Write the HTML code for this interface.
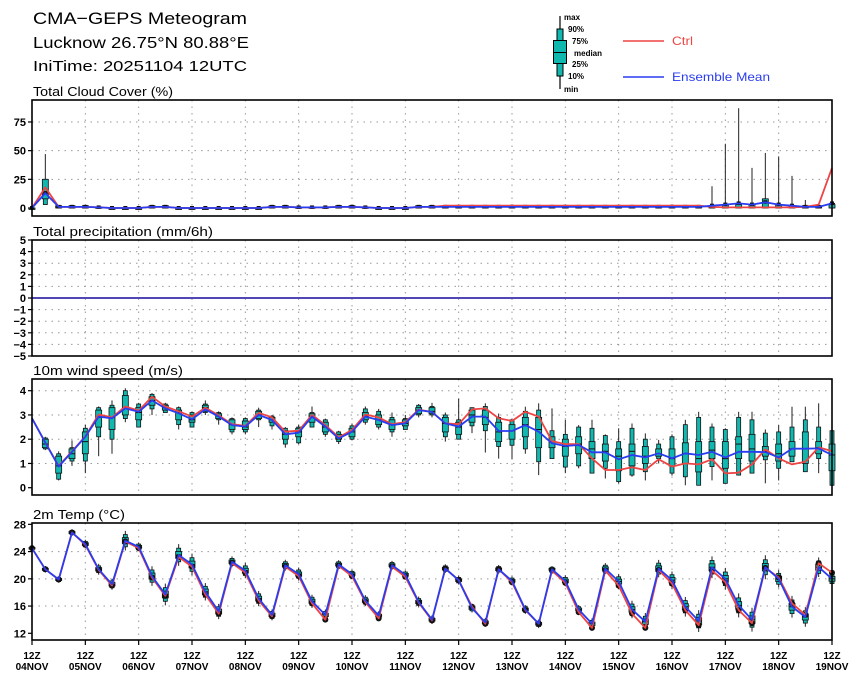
<!DOCTYPE html>
<html><head><meta charset="utf-8">
<style>
html,body{margin:0;padding:0;background:#fff;}
svg{display:block;font-family:"Liberation Sans",sans-serif;}
</style></head>
<body>
<svg id="c" width="860" height="677" viewBox="0 0 860 677">
<text x="33" y="24" font-size="17" textLength="214" lengthAdjust="spacingAndGlyphs">CMA−GEPS Meteogram</text>
<text x="33" y="48" font-size="15.5" textLength="216" lengthAdjust="spacingAndGlyphs">Lucknow 26.75°N 80.88°E</text>
<text x="33" y="71" font-size="15" textLength="214" lengthAdjust="spacingAndGlyphs">IniTime: 20251104 12UTC</text>
<g font-size="8" font-weight="bold">
 <line x1="560" y1="16" x2="560" y2="89" stroke="#000" stroke-width="1.2"/>
 <rect x="557" y="29" width="6" height="47" fill="#10b8b0" stroke="#000"/>
 <rect x="553.5" y="40.5" width="13" height="23" fill="#10b8b0" stroke="#000"/>
 <line x1="553.5" y1="52.5" x2="566.5" y2="52.5" stroke="#000"/>
 <text x="564" y="20">max</text><text x="568" y="32">90%</text><text x="572" y="44">75%</text>
 <text x="574" y="56">median</text><text x="572" y="67">25%</text><text x="568" y="79">10%</text><text x="564" y="92">min</text>
 <line x1="623" y1="41" x2="664" y2="41" stroke="#ee4444" stroke-width="1.5"/>
 <text x="672" y="45" font-size="12" fill="#ee4444" font-weight="normal" textLength="21" lengthAdjust="spacingAndGlyphs">Ctrl</text>
 <line x1="623" y1="77" x2="664" y2="77" stroke="#2a3cf0" stroke-width="1.5"/>
 <text x="672" y="81" font-size="12" fill="#2a3cf0" font-weight="normal" textLength="98" lengthAdjust="spacingAndGlyphs">Ensemble Mean</text>
</g>
</svg>
<script>
// ---- data (61 steps, 6-hourly from 12Z 04NOV) ----
var dayLabels=["04NOV","05NOV","06NOV","07NOV","08NOV","09NOV","10NOV","11NOV","12NOV","13NOV","14NOV","15NOV","16NOV","17NOV","18NOV","19NOV"];
var panelTitles=["Total Cloud Cover (%)","Total precipitation (mm/6h)","10m wind speed (m/s)","2m Temp (°C)"];
var cloudMean=[0,13,1,1,1,0.5,0,0,0,1,1,0,0,0,0,0,0,0,1,1,0.5,0.5,0.5,1,1,0.5,0,0,0,1,1,1,1,1,1,1,1,1,1,1,1,1,1,1,1,1,1,1,1,1,1,2,3,4,3,5,3,2,1,1,4];
var cloudCtrl=[0,18,1,1,1,0.5,0,0,0,1,1,0,0,0,0,0,0,0,1,1,0.5,0.5,0.5,1,1,0.5,0,0,0,1,1,2,2,2,2,2,2,2,2,2,2,2,2,2,2,2,2,2,2,2,2,1,0.5,0.5,0.5,0.5,0.5,0.5,1,3,35];
var cloudMax=[0,47,2,2,2,1,0,0,0,2,2,0,0,0,0,0,0,0,2,2,1,1,1,2,2,1,0,0,0,2,2,2,2,2,2,2,2,2,2,2,2,2,2,2,2,2,2,2,2,2,2,19,56,87,35,48,45,28,7,4,6];
var cloudP75=[0,25,2,2,2,1,0,0,0,2,2,0,0,0,0,0,0,0,2,2,1,1,1,2,2,1,0,0,0,2,2,2,2,2,2,2,2,2,2,2,2,2,2,2,2,2,2,2,2,2,2,2,3,3,3,8,3,2,2,2,3];
var cloudP25=[0,8,0,0,0,0,0,0,0,0,0,0,0,0,0,0,0,0,0,0,0,0,0,0,0,0,0,0,0,0,0,0,0,0,0,0,0,0,0,0,0,0,0,0,0,0,0,0,0,0,0,0,0,0,0,0,0,0,0,0,0];
var cloudMin=[0,3,0,0,0,0,0,0,0,0,0,0,0,0,0,0,0,0,0,0,0,0,0,0,0,0,0,0,0,0,0,0,0,0,0,0,0,0,0,0,0,0,0,0,0,0,0,0,0,0,0,0,0,0,0,0,0,0,0,0,0];
var precipMean=[0,0,0,0,0,0,0,0,0,0,0,0,0,0,0,0,0,0,0,0,0,0,0,0,0,0,0,0,0,0,0,0,0,0,0,0,0,0,0,0,0,0,0,0,0,0,0,0,0,0,0,0,0,0,0,0,0,0,0,0,0];
var windMean=[2.86,1.86,0.87,1.48,2.10,2.93,2.86,3.27,3.13,3.60,3.27,3.07,2.82,3.23,2.93,2.58,2.52,3.00,2.79,2.20,2.27,2.93,2.52,2.03,2.31,2.93,2.79,2.58,2.65,3.20,3.12,2.65,2.52,2.93,2.93,2.34,2.34,2.58,2.31,1.83,1.72,1.76,1.46,1.46,1.17,1.35,1.25,1.42,1.21,1.42,1.35,1.48,1.25,1.48,1.48,1.47,1.25,1.61,1.61,1.62,1.35];
var windCtrl=[2.86,1.86,0.90,1.50,2.12,3.02,2.90,3.35,3.18,3.75,3.35,3.15,2.93,3.30,2.98,2.62,2.55,3.09,2.90,2.31,2.35,3.00,2.58,2.08,2.38,3.02,2.90,2.62,2.70,3.22,3.12,2.65,2.62,3.23,3.27,2.86,2.75,3.13,2.93,1.92,1.80,1.80,1.21,0.73,0.73,0.84,0.73,1.17,0.87,1.00,0.96,1.17,0.59,0.62,0.96,1.58,1.21,0.96,1.07,1.66,1.51];
var windMin=[null,1.55,0.3,0.9,0.6,1.3,1.4,2.7,2.5,3.0,3.1,2.4,2.5,3.0,2.6,2.2,2.2,2.5,2.4,1.65,1.8,2.5,2.1,1.8,1.95,2.6,2.4,2.1,2.4,2.9,2.9,1.9,2.0,2.25,1.45,1.2,1.17,1.4,0.52,1.2,0.6,0.8,0.6,0.38,0.18,0.45,0.3,1.0,0.5,0.1,0.1,0.3,0.18,0.5,0.6,0.18,0.3,1.07,0.66,0.6,0.1];
var windP10=[null,1.6,0.35,1.1,1.1,2.1,2.0,2.85,2.5,3.25,3.1,2.6,2.5,3.1,2.8,2.3,2.3,2.8,2.55,1.8,1.85,2.5,2.2,1.9,2.0,2.7,2.5,2.3,2.4,3.0,3.0,2.1,2.0,2.55,2.35,1.7,1.75,1.6,1.07,1.2,0.85,0.9,0.6,0.8,0.25,0.52,0.66,1.2,0.6,0.45,0.1,0.87,0.18,0.52,0.6,1.15,0.8,1.07,0.66,1.2,0.1];
var windP25=[null,1.65,0.6,1.2,1.4,2.5,2.4,3.0,2.8,3.4,3.2,2.8,2.7,3.15,2.85,2.4,2.4,2.85,2.7,2.0,2.1,2.7,2.3,2.0,2.1,2.8,2.6,2.4,2.55,3.05,3.05,2.3,2.2,2.7,2.6,1.9,2.0,2.1,1.65,1.65,1.3,1.4,1.2,1.1,0.7,0.9,1.0,1.3,0.9,1.0,0.65,1.2,0.8,1.2,1.1,1.3,1.1,1.3,1.0,1.4,0.7];
var windMed=[null,1.8,0.9,1.4,1.9,2.9,2.9,3.3,3.1,3.6,3.3,3.1,2.8,3.3,2.95,2.6,2.5,3.0,2.8,2.2,2.3,2.95,2.5,2.05,2.3,2.95,2.8,2.6,2.65,3.2,3.15,2.65,2.5,3.0,2.9,2.3,2.35,2.6,2.4,1.9,1.7,1.8,1.6,1.5,1.3,1.5,1.3,1.4,1.2,1.4,1.2,1.55,1.2,1.8,1.6,1.5,1.4,1.6,1.6,1.65,1.35];
var windP75=[null,2.0,1.3,1.6,2.3,3.2,3.3,3.8,3.3,3.75,3.4,3.2,3.0,3.4,3.05,2.8,2.75,3.15,2.9,2.35,2.45,3.05,2.7,2.2,2.45,3.1,3.0,2.8,2.8,3.3,3.3,2.9,2.7,3.2,3.2,2.7,2.6,2.9,2.9,2.1,2.0,2.1,1.9,1.8,1.6,1.8,1.7,1.6,1.6,1.85,1.9,1.9,1.9,2.1,2.2,1.7,1.8,1.9,2.3,1.9,1.8];
var windP90=[null,2.05,1.4,1.65,2.45,3.3,3.4,4.0,3.45,3.85,3.45,3.3,3.1,3.45,3.1,2.85,2.85,3.2,2.95,2.45,2.5,3.1,2.8,2.3,2.55,3.25,3.15,2.9,2.85,3.4,3.35,3.0,2.8,3.3,3.35,2.9,2.8,3.15,3.2,2.35,2.2,2.5,2.45,2.15,1.9,2.45,2.0,1.8,2.1,2.6,2.9,2.5,2.4,2.9,2.8,2.25,2.3,2.5,2.8,2.5,2.35];
var windMax=[null,2.1,1.5,1.95,2.6,3.35,3.6,4.1,3.5,3.9,3.5,3.35,3.15,3.6,3.15,2.9,2.9,3.3,3.0,2.5,2.6,3.35,2.85,2.35,2.65,3.35,3.25,3.1,3.0,3.45,3.5,3.1,3.68,3.3,3.48,3.06,2.8,3.34,3.48,3.27,2.8,2.58,2.8,2.2,2.45,2.65,2.24,1.97,2.2,2.8,3.13,2.65,2.45,3.13,3.13,2.4,2.58,3.34,3.34,3.48,2.38];
var tempMean=[24.5,21.4,19.9,26.8,25.1,21.4,19.2,25.6,24.7,20.4,17.7,23.5,22.1,18.1,15.2,22.5,21.2,17.1,14.7,22.0,20.7,16.7,14.7,22.1,20.7,16.8,14.6,22.0,20.6,16.6,14.0,21.5,19.8,15.7,13.6,21.4,19.7,15.5,13.4,21.4,19.7,15.5,13.4,21.5,19.6,15.5,13.7,21.5,19.8,15.9,13.8,21.7,20.0,16.1,14.0,21.7,20.0,15.9,14.4,21.7,20.0];
var tempCtrl=[24.5,21.4,19.9,26.8,25.0,21.3,19.0,25.5,24.5,20.2,17.5,23.2,21.8,17.7,14.9,22.3,20.9,16.8,14.5,21.8,20.4,16.4,14.0,21.9,20.4,16.6,14.2,21.8,20.3,16.5,13.9,21.5,19.8,15.9,13.4,21.4,19.5,15.4,13.4,21.2,19.4,15.1,12.8,21.2,19.0,14.9,12.8,21.3,19.3,15.4,13.2,21.2,19.5,15.4,13.5,21.6,20.2,16.4,14.7,22.3,20.9];
var tempSpread=[0.2,0.3,0.3,0.3,0.4,0.5,0.5,0.9,0.4,0.9,1.0,1.0,1.0,0.8,0.7,0.5,0.7,0.7,0.5,0.5,0.6,0.6,0.5,0.4,0.4,0.5,0.4,0.4,0.4,0.5,0.4,0.4,0.4,0.4,0.4,0.4,0.4,0.4,0.4,0.3,0.5,0.4,0.5,0.5,0.7,0.8,0.8,0.8,0.8,0.9,1.0,1.0,1.0,1.1,1.1,1.1,0.8,1.0,0.9,0.9,0.7];

var svg=document.getElementById('c');
var NS='http://www.w3.org/2000/svg';
var X0=32,X1=832,N=61;
function xs(i){return X0+(X1-X0)*i/60;}
function mk(tag,attrs,parent){var e=document.createElementNS(NS,tag);for(var k in attrs)e.setAttribute(k,attrs[k]);(parent||svg).appendChild(e);return e;}

var panels=[
 {name:'cloud',tw:140,top:100,bot:216,y0:208,v0:0,k:1.147,ticks:[0,25,50,75],grid:[25,50,75]},
 {name:'precip',tw:180,top:240,bot:356,y0:298,v0:0,k:11.6,ticks:[-5,-4,-3,-2,-1,0,1,2,3,4,5],grid:[-4,-3,-2,-1,1,2,3,4]},
 {name:'wind',tw:150,top:379,bot:495,y0:487.7,v0:0,k:24.25,ticks:[0,1,2,3,4],grid:[1,2,3,4]},
 {name:'temp',tw:92,top:523,bot:640,y0:633.3,v0:12,k:6.81,ticks:[12,16,20,24,28],grid:[16,20,24]}
];
panels.forEach(function(p,ix){p.title=panelTitles[ix];p.y=function(v){return p.y0-(v-p.v0)*p.k;};});

panels.forEach(function(p){
 var g=mk('g',{});
 
 
 var t=mk('text',{x:33,y:p.top-4,'font-size':12.5,textLength:p.tw,lengthAdjust:'spacingAndGlyphs'},g);t.textContent=p.title;
 
 
 for(var d=1;d<15;d++){
  var gl=mk('line',{x1:xs(d*4),x2:xs(d*4),y1:p.top,y2:p.bot,stroke:'#999','stroke-width':1,'stroke-dasharray':'1.5,5'},g);
  
  
 }
 p.grid.forEach(function(v){
  var hl=mk('line',{x1:X0,x2:X1,y1:p.y(v),y2:p.y(v),stroke:'#999','stroke-width':1,'stroke-dasharray':'1.5,5'},g);
  
  
 });
 p.ticks.forEach(function(v){
  var yy=p.y(v);
  mk('line',{x1:X0-4,x2:X0,y1:yy,y2:yy,stroke:'#000','stroke-width':1.2},g);
  var tl=mk('text',{x:X0-6,y:yy+4,'font-size':11,'font-weight':'bold','text-anchor':'end'},g);
  tl.textContent=(v<0?'−'+(-v):v);
  
  
 });
 p.g=g;
});

function boxes(p,mn,p10,p25,md,p75,p90,mx){
 for(var i=0;i<N;i++){
  if(mx[i]==null)continue;
  var x=xs(i);
  var g=mk('g',{},p.g);
  
  
  mk('line',{x1:x,x2:x,y1:p.y(mx[i]),y2:p.y(mn[i]),stroke:'#222','stroke-width':1},g);
  var a=p.y(p90[i]),b=p.y(p10[i]);
  mk('rect',{x:x-2,y:a,width:4,height:Math.max(b-a,1),fill:'#10b8b0',stroke:'#111','stroke-width':0.8},g);
  a=p.y(p75[i]);b=p.y(p25[i]);
  mk('rect',{x:x-3,y:a,width:6,height:Math.max(b-a,1.5),fill:'#10b8b0',stroke:'#111','stroke-width':0.8},g);
  mk('line',{x1:x-3,x2:x+3,y1:p.y(md[i]),y2:p.y(md[i]),stroke:'#111','stroke-width':1},g);
 }
}
function line(p,vals,color,nm){
 var d='';
 for(var i=0;i<N;i++){d+=(i?'L':'M')+xs(i).toFixed(1)+','+p.y(vals[i]).toFixed(1);}
 var e=mk('path',{d:d,fill:'none',stroke:color,'stroke-width':1.8,'stroke-linejoin':'round'},p.g);
 
 
}
// cloud
var P=panels[0];
boxes(P,cloudMin,cloudMin,cloudP25,cloudMean,cloudP75,cloudP75,cloudMax);
for(var i=0;i<N;i++){mk('rect',{x:xs(i)-2,y:P.y(cloudMean[i])-2,width:4,height:3.5,fill:'#111'},P.g);}
line(P,cloudCtrl,'#ee4444','cloud-ctrl-line');
line(P,cloudMean,'#2a3cf0','cloud-mean-line');
// precip
line(panels[1],precipMean,'#ee4444','precip-ctrl-line');
line(panels[1],precipMean,'#3a40c0','precip-mean-line');
// wind
P=panels[2];
boxes(P,windMin,windP10,windP25,windMed,windP75,windP90,windMax);
line(P,windCtrl,'#ee4444','wind-ctrl-line');
line(P,windMean,'#2a3cf0','wind-mean-line');
// temp
P=panels[3];
var tMin=[],tP10=[],tP25=[],tP75=[],tP90=[],tMax=[];
for(i=0;i<N;i++){var s=tempSpread[i],m=tempMean[i];tMin.push(m-s*1.6);tP10.push(m-s);tP25.push(m-s*0.5);tP75.push(m+s*0.5);tP90.push(m+s);tMax.push(m+s*1.6);}
boxes(P,tMin,tP10,tP25,tempMean,tP75,tP90,tMax);
for(i=0;i<N;i++){mk('circle',{cx:xs(i),cy:P.y(tempCtrl[i]),r:3,fill:'#111'},P.g);}
line(P,tempCtrl,'#ee4444','temp-ctrl-line');
line(P,tempMean,'#2a3cf0','temp-mean-line');
// frames
panels.forEach(function(p){
 var f=mk('rect',{x:X0,y:p.top,width:X1-X0,height:p.bot-p.top,fill:'none',stroke:'#000','stroke-width':1.6});
 
 
});
// x axis labels
for(var d=0;d<dayLabels.length;d++){
 var x=xs(d*4);
 mk('line',{x1:x,x2:x,y1:640,y2:645,stroke:'#000','stroke-width':1.2});
 var t1=mk('text',{x:x,y:659,'font-size':10,'font-weight':'bold','text-anchor':'middle'});t1.textContent='12Z';
 
 
 var t2=mk('text',{x:x,y:670,'font-size':10,'font-weight':'bold','text-anchor':'middle'});t2.textContent=dayLabels[d];
 
 
}
</script>
</body></html>
